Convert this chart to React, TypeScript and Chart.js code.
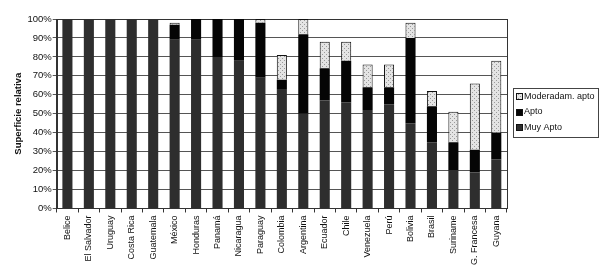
import React, { useEffect, useRef } from "react";
import { Chart, registerables } from "chart.js";

Chart.register(...registerables);

const countries = [
  "Belice", "El Salvador", "Uruguay", "Costa Rica", "Guatemala", "México",
  "Honduras", "Panamá", "Nicaragua", "Paraguay", "Colombia", "Argentina",
  "Ecuador", "Chile", "Venezuela", "Perú", "Bolivia", "Brasil", "Suriname",
  "G. Francesa", "Guyana",
];
const muyApto = [100, 100, 100, 100, 100, 89, 89, 80, 78, 69, 63, 50, 57, 56, 52, 55, 45, 35, 20, 19, 26];
const apto = [0, 0, 0, 0, 0, 8, 11, 20, 22, 29, 5, 42, 17, 22, 12, 9, 45, 19, 15, 12, 14];
const moderado = [0, 0, 0, 0, 0, 1, 0, 0, 0, 2, 13, 8, 14, 10, 12, 12, 8, 8, 16, 35, 38];
const yTicks = [0, 10, 20, 30, 40, 50, 60, 70, 80, 90, 100];

const FONT = "Arial, 'Liberation Sans', sans-serif";

function makePattern(): CanvasPattern | string {
  const c = document.createElement("canvas");
  c.width = 4;
  c.height = 4;
  const g = c.getContext("2d");
  if (!g) return "#d8d8d8";
  g.fillStyle = "#e4e4e4";
  g.fillRect(0, 0, 4, 4);
  g.fillStyle = "#9a9a9a";
  g.fillRect(0, 0, 1, 1);
  g.fillRect(2, 2, 1, 1);
  const p = g.createPattern(c, "repeat");
  return p || "#d8d8d8";
}

const frame = {
  id: "frame",
  beforeDatasetsDraw(chart: any) {
    const { ctx, chartArea } = chart;
    ctx.save();
    ctx.strokeStyle = "#333";
    ctx.lineWidth = 1;
    ctx.strokeRect(
      Math.round(chartArea.left) + 0.5,
      Math.round(chartArea.top) + 0.5,
      Math.round(chartArea.right - chartArea.left),
      Math.round(chartArea.bottom - chartArea.top)
    );
    ctx.restore();
  },
  afterDraw(chart: any) {
    // legend in a framed box, right of the plot, items in reverse stacking order
    const { ctx, chartArea } = chart;
    const ds = chart.data.datasets;
    const left = Math.round(chartArea.right) + 6;
    const top = 88;
    const w = 85;
    const rowH = 15.5;
    const h = Math.round(rowH * ds.length + 2);
    ctx.save();
    ctx.fillStyle = "#fff";
    ctx.fillRect(left, top, w, h);
    ctx.strokeStyle = "#444";
    ctx.lineWidth = 1;
    ctx.strokeRect(left + 0.5, top + 0.5, w, h);
    ctx.font = "9px " + FONT;
    ctx.textBaseline = "middle";
    ctx.textAlign = "left";
    for (let k = 0; k < ds.length; k++) {
      const d = ds[ds.length - 1 - k];
      const cy = top + 8.5 + k * rowH;
      ctx.fillStyle = d.backgroundColor;
      ctx.fillRect(left + 3, Math.round(cy - 3.5), 7, 7);
      ctx.strokeStyle = "#111";
      ctx.strokeRect(left + 3.5, Math.round(cy - 3.5) + 0.5, 6, 6);
      ctx.fillStyle = "#111";
      ctx.fillText(d.label, left + 11, cy);
    }
    ctx.restore();
  },
};

export default function App() {
  const ref = useRef<HTMLCanvasElement | null>(null);
  useEffect(() => {
    document.body.style.margin = "0";
    const el = ref.current;
    if (!el) return;
    const pat = makePattern();
    const chart = new Chart(el, {
      type: "bar",
      data: {
        labels: countries,
        datasets: [
          { label: "Muy Apto", data: muyApto, backgroundColor: "#2e2e2e", borderWidth: 0 },
          { label: "Apto", data: apto, backgroundColor: "#050505", borderWidth: 0 },
          { label: "Moderadam. apto", data: moderado, backgroundColor: pat as any, borderColor: "#111", borderWidth: 1 },
        ],
      },
      options: {
        responsive: false,
        animation: false,
        maintainAspectRatio: false,
        layout: { padding: { top: 19, right: 93, left: 13, bottom: 2 } },
        datasets: { bar: { barPercentage: 0.47, categoryPercentage: 1 } },
        plugins: {
          tooltip: { enabled: false },
          legend: { display: false },
        },
        scales: {
          x: {
            stacked: true,
            grid: { display: true, drawOnChartArea: false, drawTicks: true, tickLength: 4, color: "#333", offset: true },
            border: { color: "#333" },
            ticks: {
              color: "#111",
              font: { family: FONT, size: 9 },
              maxRotation: 90,
              minRotation: 90,
              autoSkip: false,
              padding: 3,
            },
          },
          y: {
            stacked: true,
            min: 0,
            max: 100,
            afterBuildTicks(axis: any) {
              axis.ticks = yTicks.map((v) => ({ value: v }));
            },
            grid: { color: "#555", tickLength: 4, drawTicks: true },
            border: { color: "#333" },
            ticks: {
              color: "#111",
              font: { family: FONT, size: 9.5 },
              padding: 1,
              callback: (v: any) => v + "%",
            },
            title: {
              display: true,
              text: "Superficie relativa",
              color: "#111",
              font: { family: FONT, size: 9.5, weight: "bold" },
              padding: { top: 0, bottom: 2 },
            },
          },
        },
      },
      plugins: [frame],
    });
    return () => chart.destroy();
  }, []);
  return (
    <div style={{ position: "absolute", left: 0, top: 0, width: 600, height: 270, background: "#fff" }}>
      <canvas ref={ref} width={600} height={270} />
    </div>
  );
}
